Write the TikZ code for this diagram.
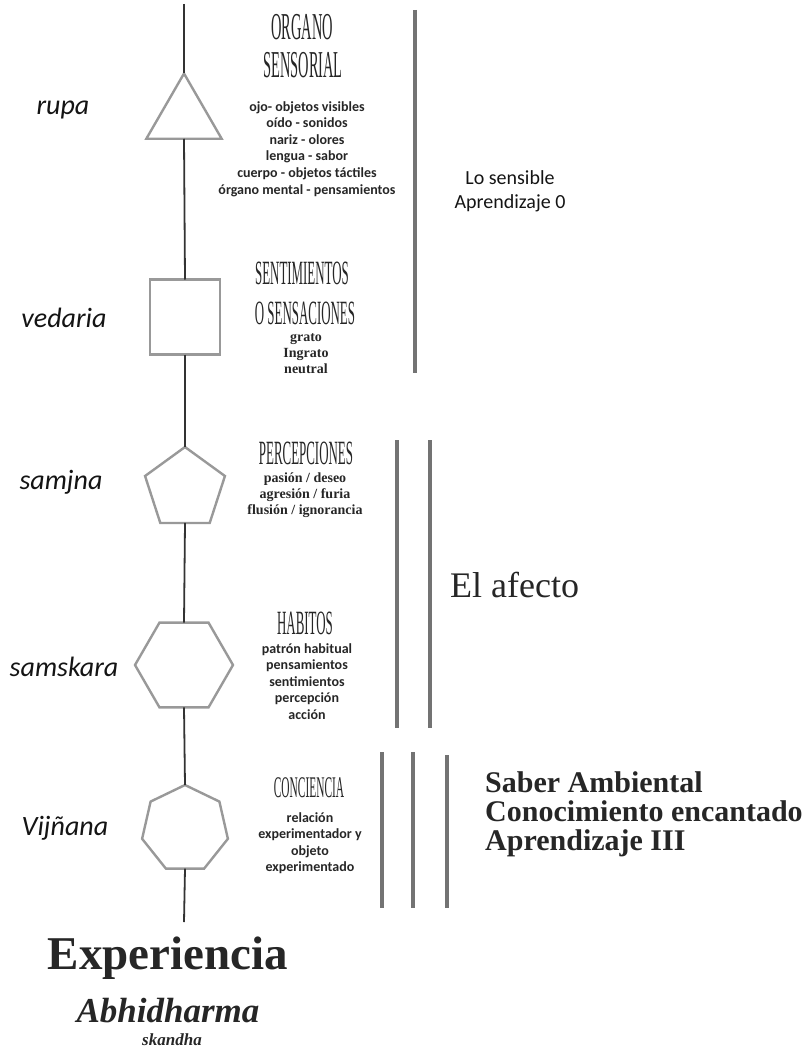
\documentclass[tikz,border=0pt]{standalone}
\usepackage{fontspec}
\setmainfont{Liberation Serif}
\newfontfamily\skSans{Carlito}
\usetikzlibrary{shapes.geometric}

\tikzset{
  eje/.style={draw=black!80, line width=1.8pt},
  figura/.style={draw=black!40, line width=2.4pt, inner sep=0pt, outer sep=0pt, fill=white},
  barra/.style={draw=black!55, line width=3.5pt},
  nombre/.style={font=\skSans\itshape\fontsize{28}{30}\selectfont, text=black!92, inner sep=0pt},
  titulo/.style={font=\fontsize{34}{36}\selectfont, text=black!85, inner sep=0pt},
  lista/.style={font=\skSans\bfseries\fontsize{14}{16.6}\selectfont, align=center, anchor=north, inner sep=0pt, text=black!85},
  listaserif/.style={font=\bfseries\fontsize{14}{16}\selectfont, align=center, anchor=north, inner sep=0pt, text=black!85},
}
\newcommand{\estrecho}[1]{\scalebox{0.38}[1]{#1}}

\begin{document}
\begin{tikzpicture}[x=1pt, y=-1pt]
\useasboundingbox (0,0) rectangle (806,1049);

% las cinco figuras
\node[figura, regular polygon, regular polygon sides=3, minimum size=87pt] (rupa) at (184,117) {};
\node[figura, rectangle, minimum width=70pt, minimum height=75pt] (vedana) at (185,317) {};
\node[figura, regular polygon, regular polygon sides=5, minimum size=84pt] (samjna) at (185,489) {};
\node[figura, regular polygon, regular polygon sides=6, minimum size=98pt] (samskara) at (184,665) {};
\node[figura, regular polygon, regular polygon sides=7, minimum size=88pt] (vijnana) at (185,829) {};

% eje
\coordinate (arriba) at (184,4);
\coordinate (abajo) at (184,922);
\draw[eje] (arriba) -- (rupa.north);
\draw[eje] (rupa.south) -- (vedana.north);
\draw[eje] (vedana.south) -- (samjna.north);
\draw[eje] (samjna.south) -- (samskara.north);
\draw[eje] (samskara.south) -- (vijnana.north);
\draw[eje] (vijnana.south) -- (abajo);

% nombres
\node[nombre] (nrupa) at (63,110) {rupa};
\node[nombre] (nvedana) at (64,318) {vedaria};
\node[nombre] (nsamjna) at (61,482) {samjna};
\node[nombre] (nsamskara) at (64,667) {samskara};
\node[nombre] (nvijnana) at (65,828) {Vijñana};

% titulos
\node[titulo, font=\fontsize{38}{40}\selectfont] (organo) at (302,27) {\estrecho{ORGANO}};
\node[titulo, font=\fontsize{38}{40}\selectfont] (sensorial) at (303,65) {\estrecho{SENSORIAL}};
\node[titulo] (sentim) at (302,273) {\estrecho{SENTIMIENTOS}};
\node[titulo] (sensac) at (305,313) {\estrecho{O SENSACIONES}};
\node[titulo] (percep) at (306,453) {\estrecho{PERCEPCIONES}};
\node[titulo] (habitos) at (305,623) {\estrecho{HABITOS}};
\node[titulo, font=\fontsize{30}{32}\selectfont] (concien) at (309,788) {\estrecho{CONCIENCIA}};

% listas
\node[lista] (lrupa) at (307,101) {ojo- objetos visibles\\oído - sonidos\\nariz - olores\\lengua - sabor\\cuerpo - objetos táctiles\\órgano mental - pensamientos};
\node[listaserif] (lvedana) at (306,333) {grato\\Ingrato\\neutral};
\node[listaserif] (lsamjna) at (305,473) {pasión / deseo\\agresión / furia\\flusión / ignorancia};
\node[lista] (lsamskara) at (307,643) {patrón habitual\\pensamientos\\sentimientos\\percepción\\acción};
\node[lista] (lvijnana) at (310,812) {relación\\experimentador y\\objeto\\experimentado};

% barras
\draw[barra] (415,10) -- (415,373);
\draw[barra] (397,440) -- (397,728);
\draw[barra] (430,440) -- (430,728);
\draw[barra] (382,752) -- (382,908);
\draw[barra] (413,752) -- (413,908);
\draw[barra] (447,755) -- (447,908);

% textos a la derecha
\node[font=\skSans\fontsize{20}{24}\selectfont, align=center, text=black!92] (sensible) at (510,191) {Lo sensible\\Aprendizaje 0};
\node[font=\fontsize{36}{40}\selectfont, anchor=west, inner sep=0pt, text=black!85] (afecto) at (450,585) {El afecto};
\node[font=\bfseries\fontsize{30}{29}\selectfont, align=left, anchor=west, inner sep=0pt, text=black!85] (saber) at (485,814) {Saber Ambiental\\Conocimiento encantado\\Aprendizaje III};

% pie
\node[font=\bfseries\fontsize{47}{50}\selectfont, inner sep=0pt, text=black!85] (experiencia) at (168,958) {Experiencia};
\node[font=\bfseries\itshape\fontsize{35}{38}\selectfont, inner sep=0pt, text=black!85] (abhidharma) at (168,1011) {Abhidharma};
\node[font=\bfseries\itshape\fontsize{17}{19}\selectfont, inner sep=0pt, text=black!85] (skandha) at (172,1040) {skandha};
\end{tikzpicture}
\end{document}
